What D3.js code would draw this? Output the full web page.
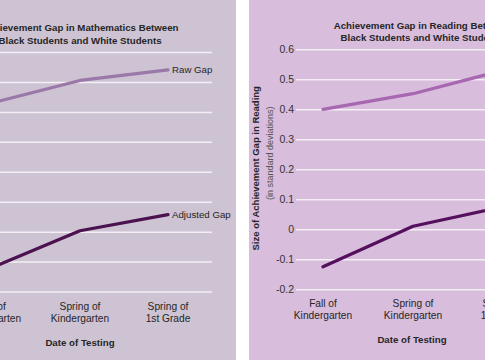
<!DOCTYPE html>
<html>
<head>
<meta charset="utf-8">
<script src="https://cdn.jsdelivr.net/npm/d3@7"></script>
<style>
  html, body { margin: 0; padding: 0; background: #ffffff; }
  svg { display: block; font-family: "Liberation Sans", Arial, sans-serif; }
</style>
</head>
<body>
<svg id="chart" width="485" height="360"></svg>
<script>
// ---- Data ----
const categories = ["Fall of Kindergarten", "Spring of Kindergarten", "Spring of 1st Grade"];
const categoryLines = [["Fall of", "Kindergarten"], ["Spring of", "Kindergarten"], ["Spring of", "1st Grade"]];
const mathRaw = [0.43, 0.505, 0.54];
const mathAdjusted = [-0.12, 0.003, 0.057];
const readingRaw = [0.40, 0.452, 0.53];
const readingAdjusted = [-0.125, 0.01, 0.075];
const yTicks = [0.6, 0.5, 0.4, 0.3, 0.2, 0.1, 0, -0.1, -0.2];
const yTickLabels = ["0.6", "0.5", "0.4", "0.3", "0.2", "0.1", "0", "-0.1", "-0.2"];
const seriesNames = ["Raw Gap", "Adjusted Gap"];
const titles = [
  ["Achievement Gap in Mathematics Between", "Black Students and White Students"],
  ["Achievement Gap in Reading Between", "Black Students and White Students"]
];
const yTitles = [
  ["Size of Achievement Gap in Mathematics", "(in standard deviations)"],
  ["Size of Achievement Gap in Reading", "(in standard deviations)"]
];
const xTitle = "Date of Testing";

// ---- Layout (the view is a crop of two side-by-side panels) ----
const panels = [
  { title: titles[0], yTitle: yTitles[0], raw: mathRaw, adj: mathAdjusted,
    bg: "#cdc3d3", rawColor: "#9a78a7", adjColor: "#4c1250",
    bgX0: -82, bgX1: 236, gridX0: -35, gridX1: 212, yTop: 52, yBot: 291.5,
    xR: [-8, 168], titleX: 80, titleY: 28, catY: 306.7, axTX: 80, axTY: 342.7,
    yTX: -76, showTickLabels: false, showYTitle: false, showSeriesLabels: true },
  { title: titles[1], yTitle: yTitles[1], raw: readingRaw, adj: readingAdjusted,
    bg: "#d8bddc", rawColor: "#a767b1", adjColor: "#55105d",
    bgX0: 249, bgX1: 567, gridX0: 296, gridX1: 543, yTop: 49.3, yBot: 289.3,
    xR: [323, 503], titleX: 422, titleY: 25.3, catY: 303.5, axTX: 412, axTY: 339.5,
    yTX: 256, showTickLabels: true, showYTitle: true, showSeriesLabels: false }
];

const svg = d3.select("#chart");
const textColor = "#262626";

panels.forEach(p => {
  const g = svg.append("g");
  g.append("rect").attr("x", p.bgX0).attr("y", 0)
    .attr("width", p.bgX1 - p.bgX0).attr("height", 360).attr("fill", p.bg);

  const x = d3.scalePoint().domain(categories).range(p.xR);
  const y = d3.scaleLinear().domain([-0.2, 0.6]).range([p.yBot, p.yTop]);

  // y axis with gridlines
  const axis = d3.axisLeft(y)
    .tickValues(yTicks)
    .tickFormat((d, i) => p.showTickLabels ? yTickLabels[i] : "")
    .tickSize(-(p.gridX1 - p.gridX0))
    .tickPadding(2);
  const ax = g.append("g").attr("transform", `translate(${p.gridX0},0)`).call(axis);
  ax.select(".domain").remove();
  ax.selectAll(".tick line").attr("stroke", "#f4eef5").attr("stroke-width", 1.5);
  if (p.showTickLabels) {
    ax.selectAll(".tick text").attr("fill", "#333").style("font-size", "10.5px")
      .style("font-family", "'Liberation Sans', Arial, sans-serif");
  } else {
    ax.selectAll(".tick text").remove();
  }

  // Title
  const t = g.append("text").attr("text-anchor", "middle")
    .attr("fill", textColor).style("font-size", "9.7px").style("font-weight", "bold");
  p.title.forEach((line, i) => {
    t.append("tspan").attr("x", p.titleX).attr("y", p.titleY + i * 12.3).attr("dy", "0.35em").text(line);
  });

  // Y axis title
  if (p.showYTitle) {
    const yMid = (p.yTop + p.yBot) / 2 - 1;
    g.append("text").attr("transform", `translate(${p.yTX},${yMid}) rotate(-90)`)
      .attr("text-anchor", "middle").attr("dy", "0.35em")
      .attr("fill", textColor).style("font-size", "9.5px").style("font-weight", "bold")
      .text(p.yTitle[0]);
    g.append("text").attr("transform", `translate(${p.yTX + 14},${yMid - 15}) rotate(-90)`)
      .attr("text-anchor", "middle").attr("dy", "0.35em")
      .attr("fill", "#555").style("font-size", "9px")
      .text(p.yTitle[1]);
  }

  // Category labels
  categories.forEach((c, i) => {
    const tx = g.append("text").attr("text-anchor", "middle").attr("fill", textColor)
      .style("font-size", "10.2px");
    categoryLines[i].forEach((line, j) => {
      tx.append("tspan").attr("x", x(c)).attr("y", p.catY + j * 11.7).attr("dy", "0.35em").text(line);
    });
  });

  // X axis title
  g.append("text").attr("x", p.axTX).attr("y", p.axTY).attr("dy", "0.35em")
    .attr("text-anchor", "middle").attr("fill", textColor)
    .style("font-size", "9.7px").style("font-weight", "bold").text(xTitle);

  // Lines
  const line = d3.line().x((d, i) => x(categories[i])).y(d => y(d));
  [[p.raw, p.rawColor], [p.adj, p.adjColor]].forEach(([vals, col], k) => {
    g.append("path").datum(vals).attr("d", line).attr("fill", "none")
      .attr("stroke", col).attr("stroke-width", 3.2)
      .attr("stroke-linecap", "round").attr("stroke-linejoin", "round");
    if (p.showSeriesLabels) {
      const last = vals[vals.length - 1];
      g.append("text").attr("x", x(categories[categories.length - 1]) + 4)
        .attr("y", y(last)).attr("dy", "0.35em").attr("fill", textColor)
        .style("font-size", "9.7px").text(seriesNames[k]);
    }
  });
});
</script>
</body>
</html>
